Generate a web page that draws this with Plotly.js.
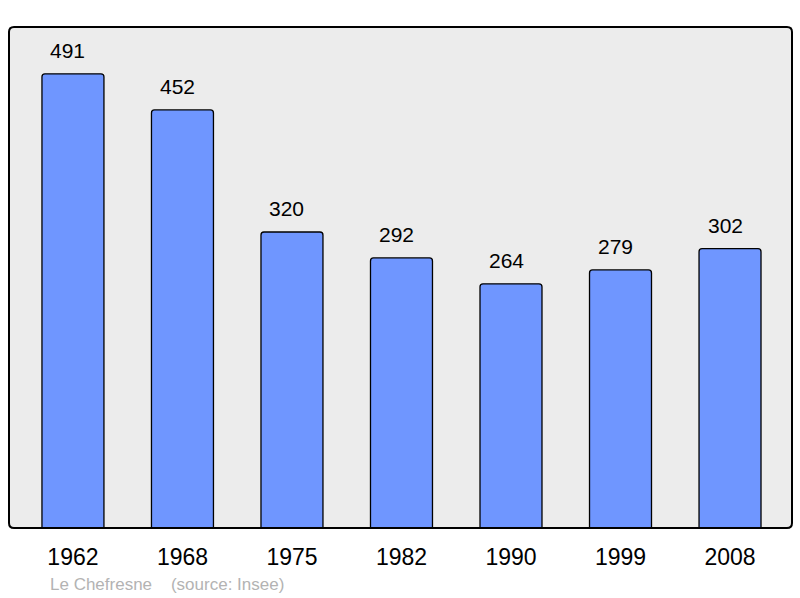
<!DOCTYPE html>
<html><head><meta charset="utf-8">
<script src="https://cdn.plot.ly/plotly-3.0.1.min.js"></script>
<style>html,body{margin:0;padding:0;background:#fff}#c{width:800px;height:598px}</style>
</head><body><div id="c"></div>
<script>
const years = ['1962','1968','1975','1982','1990','1999','2008'];
const population = [491,452,320,292,264,279,302];
const sourceText = 'Le Chefresne&nbsp;&nbsp;&nbsp;&nbsp;(source: Insee)';

const FONT = 'Liberation Sans, Arial, sans-serif';
const annotations = years.map((y,i)=>({
  x: i, y: population[i], xref:'x', yref:'y', text: String(population[i]),
  showarrow:false, yanchor:'bottom', yshift:10, xshift:-5,
  font:{family:FONT, size:21, color:'#000'}
}));
annotations.push({
  xref:'paper', yref:'paper', x:(48-9)/783, y:-(584-528)/501, xanchor:'left', yanchor:'middle',
  text: sourceText, showarrow:false,
  font:{family:FONT, size:17, color:'#b3b3b3'}
});

// rounded border in paper coords
const rx = 5/783, ry = 5/501;
const borderPath = `M ${rx},0 L ${1-rx},0 Q 1,0 1,${ry} L 1,${1-ry} Q 1,1 ${1-rx},1 L ${rx},1 Q 0,1 0,${1-ry} L 0,${ry} Q 0,0 ${rx},0 Z`;

Plotly.newPlot('c', [{
  type:'bar', x: years, y: population, width:0.566,
  marker:{color:'#6f96ff', line:{color:'#000', width:1.3}, cornerradius:3},
  hoverinfo:'none'
}], {
  width:800, height:598,
  margin:{l:9, r:8, t:27, b:70, pad:0},
  paper_bgcolor:'#fff', plot_bgcolor:'#ececec',
  showlegend:false,
  xaxis:{type:'category', range:[-0.584, 6.566], showgrid:false, zeroline:false,
    ticks:'outside', ticklen:8, tickcolor:'rgba(0,0,0,0)',
    tickfont:{family:FONT, size:23, color:'#000'}},
  yaxis:{range:[0,541.6], showgrid:false, zeroline:false, showticklabels:false, ticks:''},
  shapes:[{type:'path', xref:'paper', yref:'paper', path: borderPath,
    line:{color:'#000', width:2}, layer:'above'}],
  annotations: annotations
}, {staticPlot:true});
</script></body></html>
